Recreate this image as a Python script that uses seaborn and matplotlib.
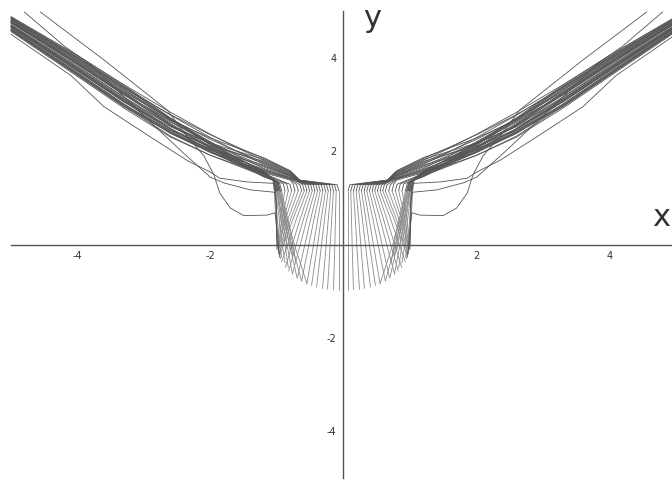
import numpy as np
import pandas as pd
import matplotlib
matplotlib.use("Agg")
import matplotlib.pyplot as plt
import seaborn as sns
from matplotlib.ticker import FixedLocator, MultipleLocator

nan = np.nan

# ---- family of curves, right half (the left half is its mirror image) ----
# lower end of each curve
tip_x = [0.07, 0.15, 0.24, 0.315, 0.405, 0.48, 0.55, 0.63, 0.695, 0.77, 0.825, 0.875, 0.93, 0.965,
         0.72, 0.76, 0.80, 0.84,
         0.55, 0.63, 0.70, 0.77, 0.83, 0.88, 0.93, 0.97,
         0.975, 0.985, 0.99, 0.995, 1.00, 1.00]
tip_y = [-0.97, -0.97, -0.955, -0.94, -0.91, -0.875, -0.835, -0.78, -0.72, -0.64, -0.57, -0.49, -0.37, -0.26,
         -0.36, -0.24, -0.13, -0.04,
         -0.84, -0.78, -0.70, -0.61, -0.50, -0.39, -0.27, -0.12,
         -0.20, -0.14, -0.10, -0.06, -0.03, -0.02]
# where each curve crosses the x axis on the way up
cross_x = [0.07, 0.13, 0.20, 0.26, 0.33, 0.39, 0.45, 0.52, 0.58, 0.65, 0.71, 0.77, 0.84, 0.90,
           0.76, 0.79, 0.82, 0.85,
           0.74, 0.78, 0.81, 0.85, 0.88, 0.92, 0.96, 0.99,
           0.92, 0.94, 0.96, 0.97, 0.98, 0.99]
cross_y = [0.0] * 32
# higher points on the rising branch
mid_x = [0.07, 0.12, 0.175, 0.225, 0.28, 0.33, 0.38, 0.435, 0.485, 0.54, 0.59, 0.64, 0.695, 0.745,
         0.85, 0.87, 0.89, 0.92,
         0.85, 0.88, 0.90, 0.93, 0.95, 0.97, 1.00, 1.02,
         0.78, 0.82, 0.86, 0.89, 0.92, 0.95]
mid_y = [0.60] * 32
neck_x = [0.07, 0.11, 0.15, 0.19, 0.23, 0.27, 0.31, 0.35, 0.39, 0.43, 0.47, 0.51, 0.55, 0.59,
          0.95, 0.97, 0.99, 1.01,
          0.93, 0.95, 0.97, 0.99, 1.00, 1.02, 1.03, 1.04,
          0.63, 0.68, 0.73, 0.78, 0.83, 0.88]
neck_y = [1.15] * 32
# top of the hook where each curve turns right
turn_x = [0.095, 0.135, 0.175, 0.215, 0.255, 0.295, 0.335, 0.375, 0.415, 0.455, 0.495, 0.535, 0.575, 0.615,
          0.98, 1.00, 1.02, 1.04,
          0.96, 0.98, 0.99, 1.01, 1.02, 1.04, 1.05, 1.06,
          0.655, 0.705, 0.755, 0.805, 0.855, 0.905]
turn_y = ([1.28] * 14 + [1.31, 1.33, 1.35, 1.37] + [1.31, 1.32, 1.33, 1.34, 1.35, 1.36, 1.37, 1.38]
          + [1.28, 1.28, 1.29, 1.29, 1.30, 1.30])
lead_x = [0.66] * 14 + [nan] * 18
lead_y = [1.38, 1.38, 1.37, 1.37, 1.36, 1.36, 1.36, 1.35, 1.35, 1.34, 1.34, 1.34, 1.33, 1.33] + [nan] * 18

# the rising band, sampled at fixed x positions
band_x = [0.8, 1.2, 1.6, 2.0, 2.6, 3.3, 4.0, 5.0]
band_y08 = ([1.58, 1.57, 1.56, 1.54, 1.53, 1.52, 1.50, 1.49, 1.48, 1.47, 1.46, 1.44, 1.43, 1.42]
            + [nan] * 12 + [1.41, 1.40, 1.38, nan, nan, nan])
band_y12 = [1.86, 1.84, 1.82, 1.80, 1.78, 1.76, 1.74, 1.72, 1.70, 1.68, 1.66, 1.63, 1.61, 1.59,
            1.57, 1.55, 1.53, 1.51,
            1.56, 1.54, 1.52, 1.51, 1.49, 1.47, 1.46, 1.45,
            1.58, 1.56, 1.54, 1.52, 1.50, 1.47]
band_y16 = [2.07, 2.09, 2.00, 2.07, 1.95, 2.00, 1.95, 1.99, 1.87, 1.92, 1.87, 1.90, 1.82, 1.84,
            1.86, 1.79, 1.80, 1.71,
            1.84, 1.75, 1.79, 1.75, 1.81, 1.69, 1.72, 1.74,
            1.78, 1.85, 1.78, 1.78, 1.73, 1.78]
band_y20 = [2.28, 2.35, 2.17, 2.36, 2.11, 2.25, 2.16, 2.29, 2.04, 2.18, 2.08, 2.20, 2.02, 2.09,
            2.18, 2.03, 2.10, 1.91,
            2.14, 1.97, 2.07, 1.99, 2.16, 1.91, 2.00, 2.05,
            1.99, 2.16, 2.03, 2.07, 1.97, 2.13]
band_y26 = [2.66, 2.78, 2.52, 2.83, 2.44, 2.69, 2.55, 2.77, 2.39, 2.62, 2.48, 2.68, 2.41, 2.54,
            2.70, 2.47, 2.59, 2.30,
            2.64, 2.38, 2.55, 2.44, 2.71, 2.32, 2.48, 2.57,
            2.38, 2.67, 2.47, 2.56, 2.41, 2.68]
band_y33 = [3.20, 3.35, 3.05, 3.42, 2.97, 3.27, 3.12, 3.38, 2.95, 3.23, 3.07, 3.31, 3.01, 3.16,
            3.36, 3.10, 3.25, 2.92,
            3.30, 3.00, 3.21, 3.08, 3.41, 2.96, 3.15, 3.26,
            2.98, 3.33, 3.11, 3.22, 3.06, 3.38]
band_y40 = [3.85, 3.98, 3.71, 4.05, 3.65, 3.92, 3.78, 4.01, 3.62, 3.88, 3.74, 3.95, 3.68, 3.82,
            4.00, 3.76, 3.89, 3.60,
            3.94, 3.67, 3.86, 3.74, 4.04, 3.64, 3.80, 3.91,
            3.65, 3.97, 3.77, 3.87, 3.72, 4.01]
band_y50 = [4.74, 4.83, 4.64, 4.88, 4.59, 4.78, 4.69, 4.85, 4.58, 4.76, 4.66, 4.81, 4.62, 4.71,
            4.84, 4.67, 4.77, 4.56,
            4.80, 4.61, 4.75, 4.66, 4.87, 4.59, 4.70, 4.78,
            4.60, 4.82, 4.68, 4.75, 4.65, 4.85]

# three outer curves that leave the bulb lower down
outer_a_x = [1.00, 1.01, 1.02, 1.04, 1.45, 1.86, 2.00, 2.35, 2.90, 3.60, 4.10, 5.00]
outer_a_y = [-0.10, 0.50, 1.10, 1.31, 1.34, 1.42, 1.55, 1.80, 2.30, 2.95, 3.62, 4.50]
outer_b_x = [0.97, 1.00, 1.01, 1.04, 1.40, 1.80, 2.00, 2.40, 3.00, 3.80, 4.20, 4.80]
outer_b_y = [-0.20, 0.40, 0.95, 1.12, 1.17, 1.32, 1.44, 1.95, 2.75, 3.85, 4.25, 4.98]
outer_c_x = [0.95, 1.00, 1.01, 1.03, 1.15, 1.50, 1.70, 1.86, 1.95, 2.10, 2.40, 2.65, 3.60, 4.56]
outer_c_y = [-0.30, 0.10, 0.50, 0.68, 0.63, 0.62, 0.78, 1.10, 1.50, 1.90, 2.40, 2.88, 3.95, 4.98]

x_ticks = [-4, -2, 2, 4]
y_ticks = [-4, -2, 2, 4]

# ---- assemble the curves into one long table ----
# each family curve is split at its neck: the thin lower stem is drawn lighter
band_cols = [band_y08, band_y12, band_y16, band_y20, band_y26, band_y33, band_y40, band_y50]
pieces = []
for k in range(len(tip_x)):
    lower = [(tip_x[k], tip_y[k]), (cross_x[k], cross_y[k]), (mid_x[k], mid_y[k]), (neck_x[k], neck_y[k])]
    upper = ([(neck_x[k], neck_y[k]), (turn_x[k], turn_y[k]), (lead_x[k], lead_y[k])]
             + [(bx, c[k]) for bx, c in zip(band_x, band_cols)])
    pieces.append(("stem", [p for p in lower if not np.isnan(p[0])]))
    pieces.append(("band", [p for p in upper if not (np.isnan(p[0]) or np.isnan(p[1]))]))
for ox, oy in [(outer_a_x, outer_a_y), (outer_b_x, outer_b_y), (outer_c_x, outer_c_y)]:
    pieces.append(("band", list(zip(ox, oy))))

rows = []
uid = 0
for part, pts in pieces:
    for side in (1, -1):
        for order, (a, b) in enumerate(pts):
            rows.append({"piece": uid, "part": part, "order": order, "x": side * a, "y": b})
        uid += 1
df = pd.DataFrame(rows)

# ---- figure ----
sns.set_style("white")
fig = plt.figure(figsize=(6.72, 4.8), dpi=100)
ax = fig.add_axes([0, 0, 1, 1])

sns.lineplot(data=df, x="x", y="y", units="piece", hue="part", estimator=None, sort=False,
             palette={"stem": "#8a8a8a", "band": "#555555"}, linewidth=0.6, ax=ax, legend=False)

ax.set_xlim(-5.165, 4.94)
ax.set_ylim(-5.04, 5.235)
ax.set_xlabel("")
ax.set_ylabel("")

for s in ("top", "right"):
    ax.spines[s].set_visible(False)
for s in ("left", "bottom"):
    ax.spines[s].set_position(("data", 0))
    ax.spines[s].set_color("#555555")
    ax.spines[s].set_linewidth(1.0)
    ax.spines[s].set_bounds(-5, 5)

ax.xaxis.set_major_locator(FixedLocator(x_ticks))
ax.yaxis.set_major_locator(FixedLocator(y_ticks))
ax.xaxis.set_minor_locator(MultipleLocator(0.4))
ax.yaxis.set_minor_locator(MultipleLocator(0.4))
ax.tick_params(which="major", direction="out", length=3, width=0.8, color="#555555",
               labelsize=7, labelcolor="#333333", pad=2)
ax.tick_params(which="minor", direction="out", length=2, width=0.6, color="#555555")
ax.set_xticklabels([str(t) for t in x_ticks])
ax.set_yticklabels([str(t) for t in y_ticks])

ax.text(4.77, 0.57, "x", fontsize=22, color="#333333", ha="center", va="center")
ax.text(0.43, 4.83, "y", fontsize=22, color="#333333", ha="center", va="center")

fig.savefig("out.png", dpi=100)
